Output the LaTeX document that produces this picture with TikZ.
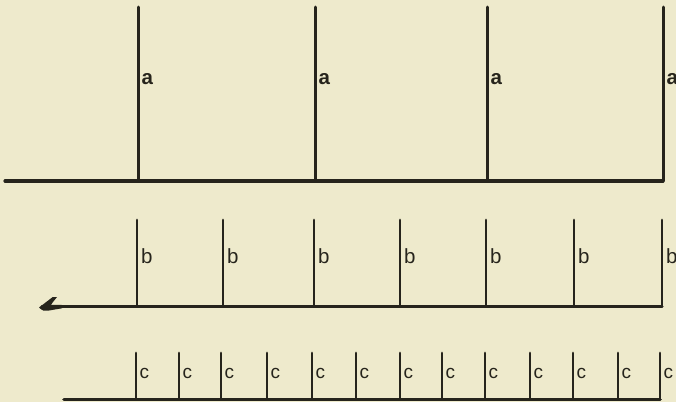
\documentclass[tikz,border=0pt]{standalone}
\usepackage{fontspec}
\newfontfamily\labfont{Liberation Sans}
\definecolor{paper}{RGB}{238,234,204}
\definecolor{ink}{RGB}{38,36,28}
\begin{document}
\begin{tikzpicture}[x=1pt,y=-1pt,
  post/.style={draw=ink,line width=#1,line cap=round},
  base/.style={draw=ink,line width=3.2pt,line cap=round,line join=round},
  lab/.style={anchor=west,inner sep=0pt,text=ink,font=\labfont\fontsize{20.5}{20.5}\selectfont},
  labc/.style={lab,font=\labfont\fontsize{19}{19}\selectfont},
  laba/.style={lab,font=\labfont\bfseries\fontsize{20.5}{20.5}\selectfont}]
\fill[paper] (0,0) rectangle (676,402);
\useasboundingbox (0,0) rectangle (676,402);
% top row
\coordinate (aL) at (5,181);
\foreach \x [count=\i] in {138,315,487,663}{
  \coordinate (at\i) at (\x,7);
  \coordinate (ab\i) at (\x,181);
  \draw[post=3pt] (ab\i) -- (at\i);
  \node[laba] (al\i) at (\x+3.5,79.5) {a};
}
\draw[base] (aL) -- (ab4);
% middle row
\coordinate (bL) at (42,306.5);
\foreach \x [count=\i] in {137,223,314,400,486,574,662}{
  \coordinate (bt\i) at (\x,220);
  \coordinate (bb\i) at (\x,306.5);
  \draw[post=2.8pt] (bb\i) -- (bt\i);
  \node[lab] (bl\i) at (\x+4,256.5) {b};
}
\draw[base,line width=3pt] (bL) -- (bb7);
\fill[ink] (39,307.5) .. controls (45,302) .. (52.5,297.2) -- (57,297) -- (53,302) -- (51,304.8) -- (62,305) -- (62,308.3) -- (49,310.5) .. controls (43,311) .. cycle;
% bottom row
\coordinate (cL) at (64,399.5);
\foreach \x [count=\i] in {136,179,221,267,312,356,400,442,485,530,573,618,660}{
  \coordinate (ct\i) at (\x,353);
  \coordinate (cb\i) at (\x,399.5);
  \draw[post=2.9pt] (cb\i) -- (ct\i);
  \node[labc] (cl\i) at (\x+3.5,373.3) {c};
}
\draw[base,line width=3.6pt] (cL) -- (cb13);
\end{tikzpicture}
\end{document}
